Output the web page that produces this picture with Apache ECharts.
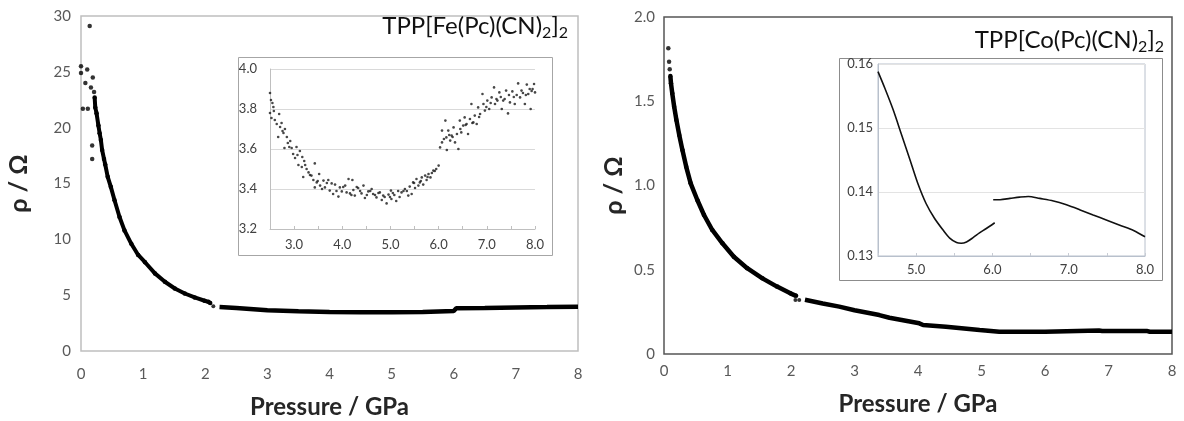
<!DOCTYPE html>
<html>
<head>
<meta charset="utf-8">
<script src="https://cdn.jsdelivr.net/npm/echarts@6/dist/echarts.min.js"></script>
<style>
html,body{margin:0;padding:0;background:#fff;}
#c{width:1184px;height:421px;}
</style>
</head>
<body>
<div id="c"></div>
<script>
// ---------- Data: TPP[Fe(Pc)(CN)2]2 (left) ----------
const feEarlyP = [0.00, 0.00, 0.03, 0.07, 0.10, 0.11, 0.14, 0.16, 0.18, 0.18, 0.19, 0.21];
const feEarlyR = [25.5, 24.9, 21.7, 24.0, 25.2, 21.7, 29.1, 23.6, 18.4, 17.2, 24.5, 23.2];
const feCurve1P = [0.22, 0.23, 0.25, 0.28, 0.30, 0.32, 0.34, 0.37, 0.39, 0.43, 0.48, 0.54, 0.62, 0.70, 0.81, 0.92, 1.03, 1.19, 1.35, 1.51, 1.67, 1.83, 1.99, 2.05, 2.08];
const feCurve1R = [22.7, 21.8, 21.3, 20.2, 19.5, 18.9, 18.0, 17.2, 16.7, 15.6, 14.7, 13.5, 12.0, 10.8, 9.6, 8.6, 7.95, 6.95, 6.2, 5.6, 5.15, 4.8, 4.5, 4.4, 4.3];
const feDotsP = [2.13];
const feDotsR = [4.0];
const feCurve2P = [2.23, 2.5, 3.0, 3.5, 4.0, 4.5, 5.0, 5.5, 6.0, 6.04, 6.5, 7.0, 7.5, 8.0];
const feCurve2R = [3.95, 3.85, 3.65, 3.55, 3.5, 3.48, 3.48, 3.5, 3.58, 3.82, 3.85, 3.9, 3.93, 3.97];
// inset (2.5 - 8.0 GPa)
const feInsetP = [2.50, 2.52, 2.55, 2.50, 2.57, 2.53, 2.60, 2.64, 2.69, 2.71, 2.74, 2.78, 2.81, 2.67, 2.85, 2.87, 2.90, 2.80, 2.95, 2.98,
  3.05, 3.02, 3.12, 3.09, 3.16, 3.17, 3.21, 3.26, 3.19, 3.30, 3.36, 3.43, 3.40, 3.47, 3.52, 3.54, 3.43, 3.61, 3.64, 3.71,
  3.74, 3.78, 3.81, 3.85, 3.92, 3.95, 3.99, 4.06, 4.09, 4.13, 4.16, 4.21, 4.23, 4.26, 4.33, 4.40, 4.44, 4.47, 4.54, 4.61,
  4.64, 4.71, 4.78, 4.82, 4.85, 4.92, 4.96, 5.01, 5.02, 5.08, 5.12, 5.16, 5.23, 5.30, 5.37, 5.40, 5.44, 5.47, 5.51, 5.54,
  5.58, 5.61, 5.65, 5.68, 5.72, 5.75, 5.79, 5.83, 5.89, 5.95, 6.00, 6.03, 6.07, 6.07, 6.14, 6.16, 6.17, 6.20, 6.24, 6.27,
  6.31, 6.34, 6.38, 6.41, 6.44, 6.47, 6.51, 6.54, 6.58, 6.61, 6.65, 6.68, 6.72, 6.75, 6.79, 6.82, 6.86, 6.91, 6.93, 6.96,
  7.01, 7.05, 7.10, 7.15, 7.17, 7.22, 7.26, 7.31, 7.34, 7.40, 7.44, 7.48, 7.53, 7.58, 7.65, 7.69, 7.72, 7.79, 7.83, 7.86,
  7.91, 7.95, 7.98, 8.00,
  2.58, 2.76, 2.92, 3.07, 3.23, 3.33, 3.49, 3.58, 3.68, 3.88, 4.02, 4.19, 4.30, 4.37, 4.51, 4.58, 4.68, 4.75, 4.88, 4.99,
  5.05, 5.19, 5.27, 5.34, 5.49, 5.63, 5.77, 5.86, 5.92, 6.11, 6.22, 6.29, 6.45, 6.56, 6.70, 6.84, 6.99, 7.08, 7.20, 7.29,
  7.37, 7.46, 7.56, 7.62, 7.75, 7.81, 7.89, 7.93];
const feInsetR = [3.88, 3.845, 3.83, 3.78, 3.81, 3.755, 3.745, 3.725, 3.775, 3.71, 3.73, 3.68, 3.70, 3.66, 3.66, 3.63, 3.61, 3.605, 3.605, 3.575,
  3.61, 3.555, 3.59, 3.52, 3.51, 3.56, 3.54, 3.50, 3.46, 3.483, 3.467, 3.528, 3.445, 3.433, 3.475, 3.417, 3.408, 3.442, 3.408, 3.445,
  3.392, 3.428, 3.375, 3.422, 3.362, 3.408, 3.388, 3.417, 3.383, 3.45, 3.378, 3.445, 3.395, 3.367, 3.405, 3.378, 3.417, 3.355, 3.388, 3.40,
  3.375, 3.358, 3.383, 3.345, 3.367, 3.328, 3.372, 3.392, 3.35, 3.37, 3.34, 3.39, 3.383, 3.40, 3.367, 3.412, 3.375, 3.433, 3.405, 3.45,
  3.417, 3.433, 3.458, 3.422, 3.467, 3.445, 3.475, 3.458, 3.492, 3.50, 3.517, 3.608, 3.633, 3.692, 3.742, 3.658, 3.595, 3.692, 3.642, 3.667,
  3.708, 3.633, 3.675, 3.60, 3.742, 3.683, 3.717, 3.758, 3.725, 3.675, 3.75, 3.825, 3.733, 3.767, 3.725, 3.808, 3.775, 3.875, 3.825, 3.792,
  3.842, 3.80, 3.858, 3.908, 3.825, 3.842, 3.883, 3.80, 3.842, 3.892, 3.778, 3.833, 3.888, 3.825, 3.928, 3.858, 3.892, 3.825, 3.922, 3.875,
  3.80, 3.90, 3.925, 3.883,
  3.79, 3.69, 3.64, 3.57, 3.52, 3.47, 3.44, 3.40, 3.43, 3.39, 3.41, 3.37, 3.41, 3.39, 3.37, 3.39, 3.37, 3.38, 3.36, 3.36,
  3.38, 3.36, 3.39, 3.39, 3.43, 3.44, 3.46, 3.48, 3.49, 3.65, 3.67, 3.66, 3.70, 3.72, 3.73, 3.76, 3.81, 3.83, 3.85, 3.86,
  3.85, 3.87, 3.86, 3.87, 3.88, 3.87, 3.90, 3.89];

// ---------- Data: TPP[Co(Pc)(CN)2]2 (right) ----------
const coEarlyP = [0.068, 0.08, 0.09];
const coEarlyR = [1.814, 1.735, 1.69];
const coCurve1P = [0.10, 0.11, 0.13, 0.16, 0.195, 0.24, 0.29, 0.35, 0.42, 0.525, 0.63, 0.76, 0.92, 1.10, 1.31, 1.55, 1.78, 1.99, 2.08];
const coCurve1R = [1.65, 1.607, 1.547, 1.468, 1.389, 1.30, 1.21, 1.111, 1.013, 0.914, 0.825, 0.736, 0.657, 0.577, 0.509, 0.449, 0.40, 0.36, 0.345];
const coDotsP = [2.07, 2.13];
const coDotsR = [0.32, 0.32];
const coCurve2P = [2.22, 2.50, 2.76, 3.00, 3.39, 3.55, 4.02, 4.08, 4.44, 4.97, 5.28, 6.00, 6.03, 6.85, 6.90, 7.60, 7.65, 8.00];
const coCurve2R = [0.322, 0.30, 0.281, 0.26, 0.231, 0.215, 0.182, 0.172, 0.162, 0.142, 0.132, 0.132, 0.14, 0.14, 0.137, 0.137, 0.132, 0.132];
// inset (4.5 - 8.0 GPa)
const coInset1P = [4.50, 4.59, 4.70, 4.81, 4.92, 5.02, 5.13, 5.24, 5.35, 5.44, 5.53, 5.59, 5.66, 5.75, 5.83, 5.92, 6.03];
const coInset1R = [0.1588, 0.1562, 0.1528, 0.1489, 0.1450, 0.1414, 0.1382, 0.1359, 0.1341, 0.1328, 0.1321, 0.1320, 0.1322, 0.1329, 0.1336, 0.1343, 0.1352];
const coInset2P = [6.01, 6.10, 6.23, 6.36, 6.47, 6.62, 6.80, 6.97, 7.15, 7.32, 7.50, 7.67, 7.85, 8.00];
const coInset2R = [0.1388, 0.1388, 0.1390, 0.1392, 0.1393, 0.1390, 0.1386, 0.1380, 0.1372, 0.1364, 0.1356, 0.1348, 0.1340, 0.1330];

// ---------- Axis titles ----------
const xTitle = 'Pressure / GPa';
const yTitle = 'ρ / Ω';

const zip = (a, b) => a.map((v, i) => [v, b[i]]);
const FONT = 'Lato';
const LBL = '#595959';

const chart = echarts.init(document.getElementById('c'), null, {renderer: 'canvas'});

function mainX(gi, margin, gap) {
  return {
    type: 'value', gridIndex: gi, min: 0, max: 8, interval: 1,
    name: xTitle, nameLocation: 'middle', nameGap: gap,
    nameTextStyle: {fontFamily: FONT, fontWeight: 'bold', fontSize: 24, color: '#262626'},
    axisLine: {show: false}, axisTick: {show: false}, splitLine: {show: false},
    axisLabel: {margin: margin, fontFamily: FONT, fontSize: 15, color: LBL}
  };
}
function mainY(gi, max, interval, margin, fmt, gap) {
  return {
    type: 'value', gridIndex: gi, min: 0, max: max, interval: interval,
    name: yTitle, nameLocation: 'middle', nameGap: gap, nameRotate: 90,
    nameTextStyle: {fontFamily: FONT, fontWeight: 'bold', fontSize: 25, color: '#262626'},
    axisLine: {show: false}, axisTick: {show: false}, splitLine: {show: false},
    axisLabel: {margin: margin, fontFamily: FONT, fontSize: 15, color: LBL, formatter: fmt}
  };
}
const insetLbl = {fontFamily: FONT, fontSize: 13, color: '#404040'};
const titleRich = {
  m: {fontFamily: FONT, fontSize: 24, fontWeight: 'normal', color: '#111', verticalAlign: 'middle'},
  s: {fontFamily: FONT, fontSize: 16, fontWeight: 'normal', color: '#111', verticalAlign: 'middle', padding: [14, 0, 0, 0]}
};

const option = {
  animation: false,
  backgroundColor: '#fff',
  title: [
    {text: '{m|TPP[Fe(Pc)(CN)}{s|2}{m|]}{s|2}', right: 1184 - 568, top: 11, padding: 0,
     textStyle: {fontWeight: 'normal', rich: titleRich}},
    {text: '{m|TPP[Co(Pc)(CN)}{s|2}{m|]}{s|2}', right: 1184 - 1164, top: 25, padding: 0,
     textStyle: {fontWeight: 'normal', rich: titleRich}}
  ],
  graphic: [
    {type: 'rect', z: -10, shape: {x: 238.5, y: 57.5, width: 314, height: 198}, style: {fill: '#fff', stroke: '#a6a6a6', lineWidth: 1}},
    {type: 'rect', z: -10, shape: {x: 839.5, y: 58.5, width: 323, height: 222}, style: {fill: '#fff', stroke: '#8c8c8c', lineWidth: 1}}
  ],
  grid: [
    {left: 81, top: 16, width: 497, height: 335, outerBoundsMode: 'none', containLabel: false, show: true, borderColor: '#bfbfbf', borderWidth: 1.5, backgroundColor: 'transparent'},
    {left: 270, top: 69, width: 265, height: 160, outerBoundsMode: 'none', containLabel: false, show: false},
    {left: 664, top: 17, width: 508, height: 337, outerBoundsMode: 'none', containLabel: false, show: true, borderColor: '#555', borderWidth: 1.5, backgroundColor: 'transparent'},
    {left: 878, top: 64, width: 267, height: 192, outerBoundsMode: 'none', containLabel: false, show: true, borderColor: '#b8c0cc', borderWidth: 1, backgroundColor: 'transparent'}
  ],
  xAxis: [
    mainX(0, 16, 44),
    {type: 'value', gridIndex: 1, min: 2.5, max: 8, interval: 0.5,
     axisLine: {show: true, lineStyle: {color: '#bfbfbf'}},
     axisTick: {show: true, inside: true, length: 3, lineStyle: {color: '#bfbfbf'}},
     splitLine: {show: false},
     axisLabel: Object.assign({margin: 9, formatter: v => (Math.abs(v - Math.round(v)) < 1e-6 ? v.toFixed(1) : '')}, insetLbl)},
    mainX(2, 10, 38),
    {type: 'value', gridIndex: 3, min: 4.5, max: 8, interval: 0.5,
     axisLine: {show: true, lineStyle: {color: '#b8c0cc'}},
     axisTick: {show: true, inside: true, length: 3, lineStyle: {color: '#c8ccd4'}},
     splitLine: {show: false},
     axisLabel: Object.assign({margin: 7, formatter: v => (Math.abs(v - Math.round(v)) < 1e-6 ? v.toFixed(1) : '')}, insetLbl)}
  ],
  yAxis: [
    mainY(0, 30, 5, 10, v => String(v), 50),
    {type: 'value', gridIndex: 1, min: 3.2, max: 4.0, interval: 0.2,
     axisLine: {show: true, lineStyle: {color: '#bfbfbf'}}, axisTick: {show: false},
     splitLine: {show: true, lineStyle: {color: '#d9d9d9', width: 1}},
     axisLabel: Object.assign({margin: 13, formatter: v => v.toFixed(1)}, insetLbl)},
    mainY(2, 2, 0.5, 9, v => (v === 0 ? '0' : v.toFixed(1)), 38),
    {type: 'value', gridIndex: 3, min: 0.13, max: 0.16, interval: 0.01,
     axisLine: {show: true, lineStyle: {color: '#b8c0cc'}}, axisTick: {show: false},
     splitLine: {show: true, lineStyle: {color: '#e3e3e3', width: 1}},
     axisLabel: Object.assign({margin: 5, formatter: v => v.toFixed(2)}, insetLbl)}
  ],
  series: [
    // left main
    {type: 'scatter', xAxisIndex: 0, yAxisIndex: 0, data: zip(feEarlyP, feEarlyR), symbolSize: 4.5, itemStyle: {color: '#000'}},
    {type: 'line', xAxisIndex: 0, yAxisIndex: 0, data: zip(feCurve1P, feCurve1R), symbol: 'circle', symbolSize: 4.5, showSymbol: true,
     lineStyle: {color: '#000', width: 4}, itemStyle: {color: '#000'}},
    {type: 'scatter', xAxisIndex: 0, yAxisIndex: 0, data: zip(feDotsP, feDotsR), symbolSize: 4, itemStyle: {color: '#000'}},
    {type: 'line', xAxisIndex: 0, yAxisIndex: 0, data: zip(feCurve2P, feCurve2R), showSymbol: false,
     lineStyle: {color: '#000', width: 4.5}},
    // left inset
    {type: 'scatter', xAxisIndex: 1, yAxisIndex: 1, data: zip(feInsetP, feInsetR), symbolSize: 2.6, itemStyle: {color: '#1a1a1a'}},
    // right main
    {type: 'scatter', xAxisIndex: 2, yAxisIndex: 2, data: zip(coEarlyP, coEarlyR), symbolSize: 4.5, itemStyle: {color: '#000'}},
    {type: 'line', xAxisIndex: 2, yAxisIndex: 2, data: zip(coCurve1P, coCurve1R), symbol: 'circle', symbolSize: 4.5, showSymbol: true,
     lineStyle: {color: '#000', width: 4.5}, itemStyle: {color: '#000'}},
    {type: 'scatter', xAxisIndex: 2, yAxisIndex: 2, data: zip(coDotsP, coDotsR), symbolSize: 4, itemStyle: {color: '#000'}},
    {type: 'line', xAxisIndex: 2, yAxisIndex: 2, data: zip(coCurve2P, coCurve2R), showSymbol: false,
     lineStyle: {color: '#000', width: 4.5}},
    // right inset
    {type: 'line', xAxisIndex: 3, yAxisIndex: 3, data: zip(coInset1P, coInset1R), showSymbol: false, smooth: 0.3,
     lineStyle: {color: '#111', width: 1.6}},
    {type: 'line', xAxisIndex: 3, yAxisIndex: 3, data: zip(coInset2P, coInset2R), showSymbol: false, smooth: 0.3,
     lineStyle: {color: '#111', width: 1.6}}
  ]
};
chart.setOption(option);
</script>
</body>
</html>
